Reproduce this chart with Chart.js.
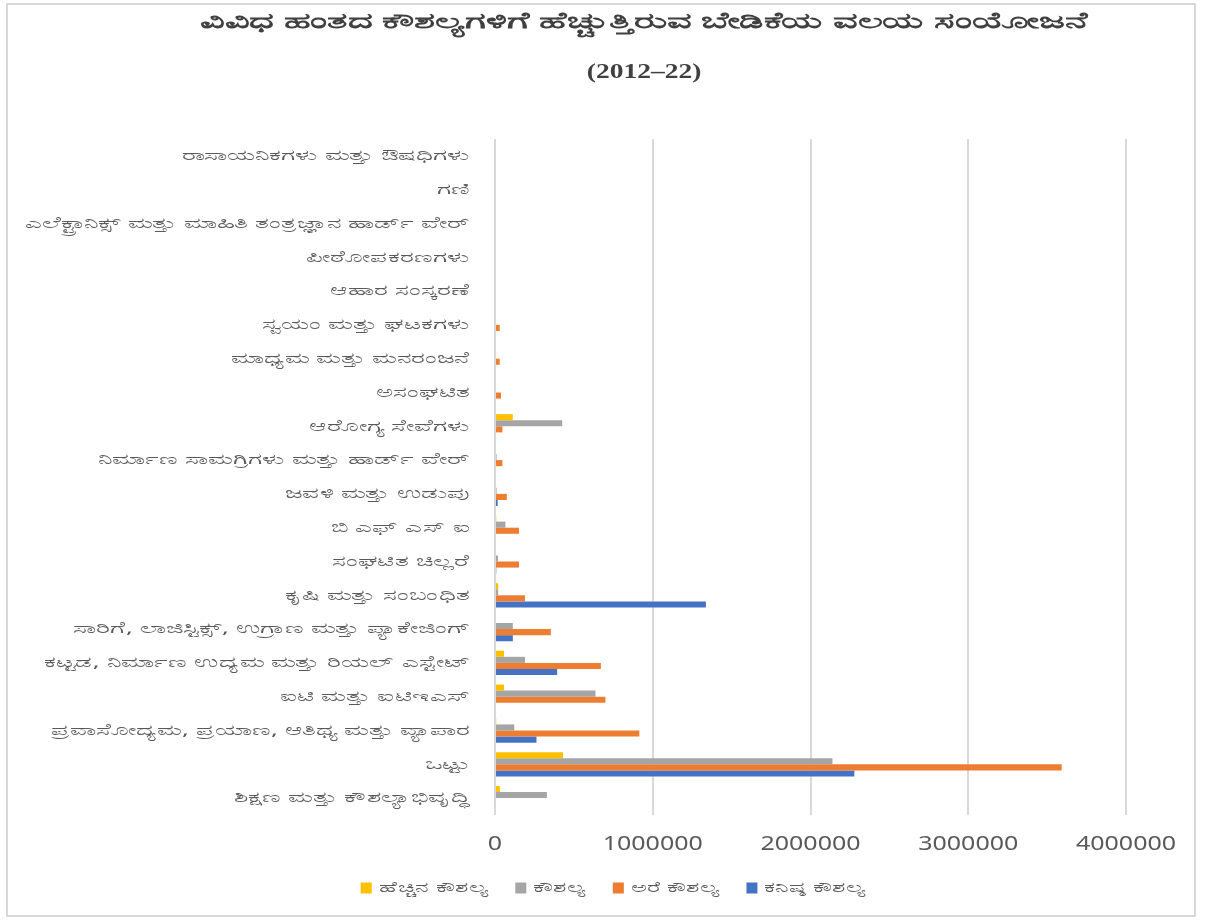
<!DOCTYPE html>
<html>
<head>
<meta charset="utf-8">
<script src="https://cdn.jsdelivr.net/npm/chart.js@4"></script>
<style>
  html, body { margin: 0; padding: 0; background: #fff; }
  #frame {
    position: absolute; left: 6px; top: 3px; width: 1190px; height: 914px;
    border: 2px solid #d9d9d9; box-sizing: border-box;
  }
  #chart { position: absolute; left: 0; top: 0; }
</style>
</head>
<body>
<div id="frame"></div>
<canvas id="chart" width="1208" height="922"></canvas>
<script>
'use strict';

let categories = [
  'ರಾಸಾಯನಿಕಗಳು ಮತ್ತು ಔಷಧಿಗಳು',
  'ಗಣಿ',
  'ಎಲೆಕ್ಟ್ರಾನಿಕ್ಸ್ ಮತ್ತು ಮಾಹಿತಿ ತಂತ್ರಜ್ಞಾನ ಹಾರ್ಡ್ ವೇರ್',
  'ಪೀಠೋಪಕರಣಗಳು',
  'ಆಹಾರ ಸಂಸ್ಕರಣೆ',
  'ಸ್ವಯಂ ಮತ್ತು ಘಟಕಗಳು',
  'ಮಾಧ್ಯಮ ಮತ್ತು ಮನರಂಜನೆ',
  'ಅಸಂಘಟಿತ',
  'ಆರೋಗ್ಯ ಸೇವೆಗಳು',
  'ನಿರ್ಮಾಣ ಸಾಮಗ್ರಿಗಳು ಮತ್ತು ಹಾರ್ಡ್ ವೇರ್',
  'ಜವಳಿ ಮತ್ತು ಉಡುಪು',
  'ಬಿ ಎಫ್ ಎಸ್ ಐ',
  'ಸಂಘಟಿತ ಚಿಲ್ಲರೆ',
  'ಕೃಷಿ ಮತ್ತು ಸಂಬಂಧಿತ',
  'ಸಾರಿಗೆ, ಲಾಜಿಸ್ಟಿಕ್ಸ್, ಉಗ್ರಾಣ ಮತ್ತು ಪ್ಯಾಕೇಜಿಂಗ್',
  'ಕಟ್ಟಡ, ನಿರ್ಮಾಣ ಉದ್ಯಮ ಮತ್ತು ರಿಯಲ್ ಎಸ್ಟೇಟ್',
  'ಐಟಿ ಮತ್ತು ಐಟಿಇಎಸ್',
  'ಪ್ರವಾಸೋದ್ಯಮ, ಪ್ರಯಾಣ, ಆತಿಥ್ಯ ಮತ್ತು ವ್ಯಾಪಾರ',
  'ಒಟ್ಟು',
  'ಶಿಕ್ಷಣ ಮತ್ತು ಕೌಶಲ್ಯಾಭಿವೃದ್ಧಿ'
];

let seriesNames = ['ಹೆಚ್ಚಿನ ಕೌಶಲ್ಯ', 'ಕೌಶಲ್ಯ', 'ಅರೆ ಕೌಶಲ್ಯ', 'ಕನಿಷ್ಠ ಕೌಶಲ್ಯ'];

let highSkilled = [0, 0, 0, 0, 0, 0, 0, 0, 113000, 0, 0, 8000, 0, 20000, 0, 57000, 57000, 8000, 431000, 31000];
let skilled     = [0, 0, 0, 0, 0, 0, 0, 0, 426000, 10000, 10000, 66000, 19000, 20000, 113000, 190000, 637000, 122000, 2139000, 329000];
let semiSkilled = [0, 0, 0, 0, 0, 30000, 30000, 38000, 47000, 47000, 75000, 152000, 152000, 190000, 354000, 671000, 700000, 915000, 3592000, 0];
let minSkilled  = [0, 0, 0, 0, 0, 0, 0, 0, 0, 0, 17000, 0, 8000, 1337000, 113000, 394000, 0, 263000, 2278000, 0];

let xTicks = [0, 1000000, 2000000, 3000000, 4000000];

let colors = ['#FFC000', '#A5A5A5', '#ED7D31', '#4472C4'];

let titleLines = ['ವಿವಿಧ ಹಂತದ ಕೌಶಲ್ಯಗಳಿಗೆ ಹೆಚ್ಚುತ್ತಿರುವ ಬೇಡಿಕೆಯ ವಲಯ ಸಂಯೋಜನೆ', '(2012–22)'];

let canvasElem = document.getElementById('chart');
let ctx = canvasElem.getContext('2d');

// the source picture uses a much wider face than anything installed,
// so stretch text horizontally around its anchor point
const KANNADA = /[\u0C80-\u0CFF]/;
function stretchFor(text) {
  return KANNADA.test(String(text)) ? 1.75 : 1.25;
}
const origFillText = ctx.fillText;
const origMeasure = ctx.measureText;
ctx.fillText = function (text, x, y, maxWidth) {
  let s = stretchFor(text);
  this.save();
  this.translate(x, y);
  this.scale(s, 1);
  origFillText.call(this, text, 0, 0);
  this.restore();
};
ctx.measureText = function (text) {
  let m = origMeasure.call(this, text);
  let s = stretchFor(text);
  return {
    width: m.width * s,
    actualBoundingBoxAscent: m.actualBoundingBoxAscent,
    actualBoundingBoxDescent: m.actualBoundingBoxDescent,
    actualBoundingBoxLeft: m.actualBoundingBoxLeft * s,
    actualBoundingBoxRight: m.actualBoundingBoxRight * s
  };
};

let allSeries = [highSkilled, skilled, semiSkilled, minSkilled];
let datasets = [];
for (let i = 0; i < allSeries.length; i++) {
  datasets.push({
    label: seriesNames[i],
    data: allSeries[i],
    backgroundColor: colors[i],
    borderWidth: 0,
    barPercentage: 1,
    categoryPercentage: 0.72
  });
}

// nudge title and legend sideways to where they sit in the source
const shiftBoxes = {
  id: 'shiftBoxes',
  afterLayout(chart) {
    if (chart.titleBlock) { chart.titleBlock.left += 81; chart.titleBlock.right += 81; }
    if (chart.legend) { chart.legend.left += 50; chart.legend.right += 50; }
  }
};

const config = {
  type: 'bar',
  data: { labels: categories, datasets: datasets },
  options: {
    indexAxis: 'y',
    responsive: false,
    animation: false,
    layout: { padding: { left: 0, right: 82, top: 0, bottom: 17 } },
    plugins: {
      title: {
        display: true,
        text: titleLines,
        color: '#404040',
        font: { family: "'Liberation Serif', serif", size: 22, weight: 'bold', lineHeight: 50 / 22 },
        padding: { top: -3, bottom: 42 }
      },
      legend: {
        position: 'bottom',
        labels: {
          boxWidth: 11,
          boxHeight: 11,
          color: '#595959',
          font: { family: "'Noto Sans', 'DejaVu Sans', sans-serif", size: 14 },
          padding: 27
        }
      },
      tooltip: { enabled: false }
    },
    scales: {
      x: {
        min: 0,
        max: 4000000,
        afterBuildTicks: function (axis) {
          axis.ticks = xTicks.map(function (v) { return { value: v }; });
        },
        afterFit: function (axis) { axis.height = 39; },
        ticks: {
          color: '#595959',
          font: { family: "'Noto Sans', 'DejaVu Sans', sans-serif", size: 20 },
          padding: 17,
          maxRotation: 0,
          callback: function (v) { return String(v); }
        },
        grid: { color: '#d9d9d9', lineWidth: 2, drawTicks: false },
        border: { display: false }
      },
      y: {
        afterFit: function (axis) { axis.width = 495; },
        ticks: {
          color: '#595959',
          font: { family: "'Noto Sans', 'DejaVu Sans', sans-serif", size: 15 },
          padding: 25,
          autoSkip: false
        },
        grid: { display: false, drawTicks: false },
        border: { display: false }
      }
    }
  },
  plugins: [shiftBoxes]
};

new Chart(canvasElem, config);
</script>
</body>
</html>
